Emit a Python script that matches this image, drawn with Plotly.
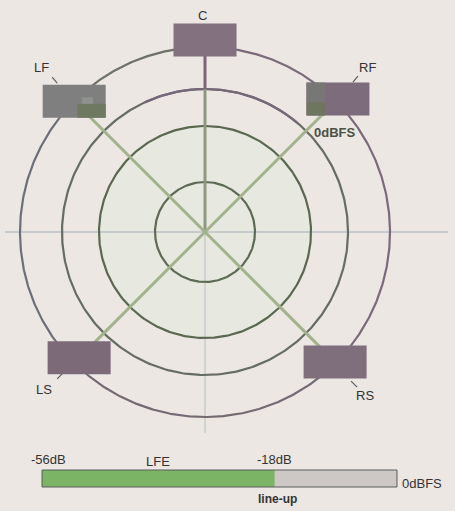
import numpy as np
import plotly.graph_objects as go

# ---------------- data ----------------
channels = ["C", "LF", "RF", "LS", "RS"]
channel_angle_deg = [0, -45, 45, -135, 135]      # clockwise from top
channel_radius = [192, 185, 188, 178, 184]       # distance of level box from centre
ring_radius = [50, 106, 143, 185]
lfe_min_db = -56
lfe_top_db = 2
lfe_level_db = -18
lfe_tick_db = [-56, -18]
lfe_tick_text = ["-56dB", "-18dB"]

# ---------------- style ----------------
BG = "#ece7e3"
FONT = "Liberation Sans, Arial, sans-serif"
TXT = "#333333"
ring_colors = ["#5d6b55", "#5a6850", "#656d62", "#776d78"]
box_colors = {"C": "#83717f", "LF": "#7f7f80", "RF": "#7d6c7b", "LS": "#7c6a79", "RS": "#7f6e7c"}
BOX_W, BOX_H = 63, 33
RING_W = 2.2

fig = go.Figure()

def arc(r, a0, a1, n=200):
    t = np.radians(np.linspace(a0, a1, n))
    return r * np.sin(t), r * np.cos(t)

# inner tinted disc
x, y = arc(ring_radius[1], 0, 360, 361)
fig.add_trace(go.Scatter(x=x, y=y, mode="lines", fill="toself", fillcolor="#e7e9e1",
                         line=dict(width=0), hoverinfo="skip", showlegend=False))

# thin crosshair
fig.add_trace(go.Scatter(x=[-200, 243], y=[0, 0], mode="lines",
                         line=dict(color="#a3acb5", width=1), hoverinfo="skip", showlegend=False))
fig.add_trace(go.Scatter(x=[0, 0], y=[0, -201], mode="lines",
                         line=dict(color="#b9bcbf", width=1), hoverinfo="skip", showlegend=False))

# rings
for r, c in zip(ring_radius[:-1], ring_colors[:-1]):
    x, y = arc(r, 0, 360, 361)
    fig.add_trace(go.Scatter(x=x, y=y, mode="lines", line=dict(color=c, width=RING_W),
                             hoverinfo="skip", showlegend=False))
# purple top segment on third ring
x, y = arc(ring_radius[2], -25, 40)
fig.add_trace(go.Scatter(x=x, y=y, mode="lines", line=dict(color="#76687a", width=RING_W),
                         hoverinfo="skip", showlegend=False))
# outer ring segments
outer_segments = [(-45, 0, "#6d7166"), (0, 45, "#7b6b7a"), (45, 135, "#7c6a7c"),
                  (135, 225, "#736a73"), (225, 315, "#6c6f78")]
for a0, a1, c in outer_segments:
    x, y = arc(ring_radius[-1], a0, a1)
    fig.add_trace(go.Scatter(x=x, y=y, mode="lines", line=dict(color=c, width=RING_W),
                             hoverinfo="skip", showlegend=False))

# spokes
for ch, a, r in zip(channels, channel_angle_deg, channel_radius):
    t = np.radians(a)
    if ch == "C":
        fig.add_trace(go.Scatter(x=[0, 0], y=[0, ring_radius[2]], mode="lines",
                                 line=dict(color="#8e977f", width=3), hoverinfo="skip", showlegend=False))
        fig.add_trace(go.Scatter(x=[0, 0], y=[ring_radius[2], r], mode="lines",
                                 line=dict(color="#7a6677", width=3), hoverinfo="skip", showlegend=False))
    else:
        fig.add_trace(go.Scatter(x=[0, r * np.sin(t)], y=[0, r * np.cos(t)], mode="lines",
                                 line=dict(color="#a2b28c", width=3), hoverinfo="skip", showlegend=False))

shapes = []
annotations = []
label_offsets = {"C": (-3, 25), "LF": (-33, 34), "RF": (30, 32), "LS": (-35, -32), "RS": (30, -33)}
tick_offsets = {"LF": ((-22, 24), (-17, 18)), "RF": ((20, 23), (15, 17)),
                "LS": ((-17, -16), (-22, -21)), "RS": ((16, -19), (22, -25))}
for ch, a, r in zip(channels, channel_angle_deg, channel_radius):
    t = np.radians(a)
    cx, cy = r * np.sin(t), r * np.cos(t)
    x0, x1 = cx - BOX_W / 2, cx + BOX_W / 2
    y0, y1 = cy - BOX_H / 2, cy + BOX_H / 2
    shapes.append(dict(type="rect", xref="x", yref="y", x0=x0, x1=x1, y0=y0, y1=y1,
                       fillcolor=box_colors[ch], line=dict(width=0)))
    if ch == "LF":
        shapes.append(dict(type="rect", xref="x", yref="y", x0=x0 + 0.55 * BOX_W, x1=x1,
                           y0=y0, y1=y0 + 0.42 * BOX_H, fillcolor="#6f7860", line=dict(width=0)))
        shapes.append(dict(type="rect", xref="x", yref="y", x0=x0 + 0.62 * BOX_W, x1=x0 + 0.8 * BOX_W,
                           y0=y0 + 0.42 * BOX_H, y1=y0 + 0.62 * BOX_H, fillcolor="#8f918c", line=dict(width=0)))
    if ch == "RF":
        shapes.append(dict(type="rect", xref="x", yref="y", x0=x0, x1=x0 + 0.3 * BOX_W,
                           y0=y0 + 0.4 * BOX_H, y1=y1, fillcolor="#777875", line=dict(width=0)))
        shapes.append(dict(type="rect", xref="x", yref="y", x0=x0, x1=x0 + 0.3 * BOX_W,
                           y0=y0, y1=y0 + 0.4 * BOX_H, fillcolor="#6f765f", line=dict(width=0)))
    if ch in tick_offsets:
        (ax, ay), (bx, by) = tick_offsets[ch]
        shapes.append(dict(type="line", xref="x", yref="y",
                           x0=cx + ax, y0=cy + ay, x1=cx + bx, y1=cy + by,
                           line=dict(color="#5a5a5c", width=1.2)))
    dx, dy = label_offsets[ch]
    annotations.append(dict(x=cx + dx, y=cy + dy, xref="x", yref="y", text=ch, showarrow=False,
                            font=dict(family=FONT, size=13, color=TXT)))

annotations.append(dict(x=130, y=100, xref="x", yref="y", text="<b>0dBFS</b>", showarrow=False,
                        font=dict(family=FONT, size=13, color="#4b5144")))

# ---------------- LFE bar ----------------
fig.add_trace(go.Bar(x=[lfe_level_db - lfe_min_db], base=[lfe_min_db], y=[0], orientation="h",
                     width=1, marker=dict(color="#7bb464", line=dict(width=0)),
                     xaxis="x2", yaxis="y2", hoverinfo="skip", showlegend=False))
shapes.append(dict(type="rect", xref="x2 domain", yref="y2 domain", x0=0, x1=1, y0=0, y1=1,
                   fillcolor="#cdc8c5", line=dict(width=0), layer="below"))
shapes.append(dict(type="rect", xref="x2 domain", yref="y2 domain", x0=0, x1=1, y0=0, y1=1,
                   fillcolor="rgba(0,0,0,0)", line=dict(color="#5a5c5c", width=1)))
for v, s in zip(lfe_tick_db, lfe_tick_text):
    annotations.append(dict(x=v, y=1, xref="x2", yref="y2 domain", text=s, showarrow=False,
                            yanchor="bottom", yshift=1, xshift=(6 if v == lfe_min_db else 0),
                            font=dict(family=FONT, size=13, color=TXT)))
annotations.append(dict(x=-37, y=1, xref="x2", yref="y2 domain", text="LFE", showarrow=False,
                        yanchor="bottom", yshift=-1, font=dict(family=FONT, size=13, color=TXT)))
annotations.append(dict(x=1, y=0.5, xref="x2 domain", yref="y2 domain", text="0dBFS", showarrow=False,
                        xanchor="left", xshift=3, yshift=-5, font=dict(family=FONT, size=13, color=TXT)))
annotations.append(dict(x=lfe_level_db, y=0, xref="x2", yref="y2 domain", text="<b>line-up</b>",
                        showarrow=False, yanchor="top", yshift=-3, xshift=3,
                        font=dict(family=FONT, size=12, color=TXT)))

W, H = 455, 511
fig.update_layout(
    width=W, height=H, margin=dict(l=0, r=0, t=0, b=0),
    paper_bgcolor=BG, plot_bgcolor="rgba(0,0,0,0)",
    xaxis=dict(range=[-205, 250], visible=False, domain=[0, 1]),
    yaxis=dict(range=[-279, 232], visible=False, domain=[0, 1]),
    xaxis2=dict(range=[lfe_min_db, lfe_top_db], domain=[42 / W, 397 / W], visible=False, anchor="y2"),
    yaxis2=dict(range=[-0.5, 0.5], domain=[(H - 487) / H, (H - 470) / H], visible=False, anchor="x2"),
    shapes=shapes, annotations=annotations, showlegend=False,
)
fig.write_html("out.html", config={"displayModeBar": False},
               post_script="document.body.style.margin='0';document.body.style.overflow='hidden';")
